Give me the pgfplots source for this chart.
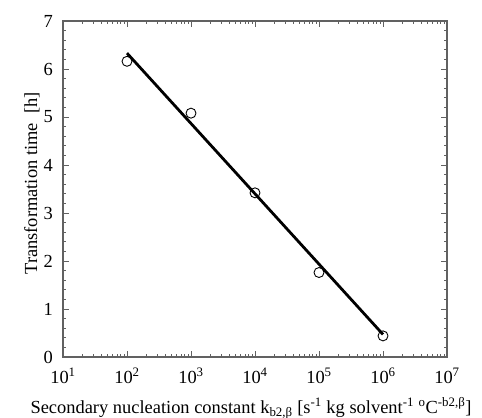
\documentclass[border=0pt]{standalone}
\usepackage{fontspec}
\setmainfont{Liberation Serif}
\usepackage{pgfplots}
\pgfplotsset{compat=1.18}

\definecolor{axisgray}{gray}{0.38}

\begin{document}
\begin{tikzpicture}
\path[use as bounding box] (0,0) rectangle (482bp,418bp);
\begin{axis}[
  at={(63bp,61bp)}, anchor=south west,
  scale only axis,
  width=384bp, height=336bp,
  xmode=log, log basis x=10,
  xmin=10, xmax=1e7,
  ymin=0, ymax=7,
  xticklabel={10\textsuperscript{\pgfmathprintnumber[fixed,precision=0]{\tick}}},
  ytick={0,1,...,7},
  minor y tick num=4,
  /pgf/number format/assume math mode=true,
  tick align=inside,
  major tick length=6bp,
  minor tick length=3.5bp,
  axis line style={axisgray, line width=1.1pt},
  every tick/.style={axisgray, line width=0.9pt},
  tick label style={font=\fontsize{18.5}{22}\selectfont},
  xticklabel style={anchor=base, yshift=-26bp},
  yticklabel style={anchor=east, inner sep=0pt, xshift=-10bp},
  xlabel={Secondary nucleation constant k\textsubscript{b2,β} [s\textsuperscript{-1} kg solvent\textsuperscript{-1} \textsuperscript{o}C\textsuperscript{-b2,β}]},
  ylabel={Transformation time\ \ [h]},
  xlabel style={font=\fontsize{18.5}{22}\selectfont,
    at={(axis description cs:0.4896,-0.1667)}, anchor=base},
  ylabel style={font=\fontsize{18.5}{22}\selectfont,
    at={(axis description cs:-0.0677,0.5164)}, anchor=base},
  clip=false,
]
% fitted trend line
\addplot[black, line width=2.8pt, no marks] coordinates {
  (1e2,6.33) (1e6,0.47)
};
% simulated transformation times
\addplot[only marks, mark=o, mark size=5bp, mark options={black, fill=white, line width=0.9pt}] coordinates {
  (1e2,6.16) (1e3,5.08) (1e4,3.42) (1e5,1.76) (1e6,0.44)
};
\end{axis}
\end{tikzpicture}
\end{document}
